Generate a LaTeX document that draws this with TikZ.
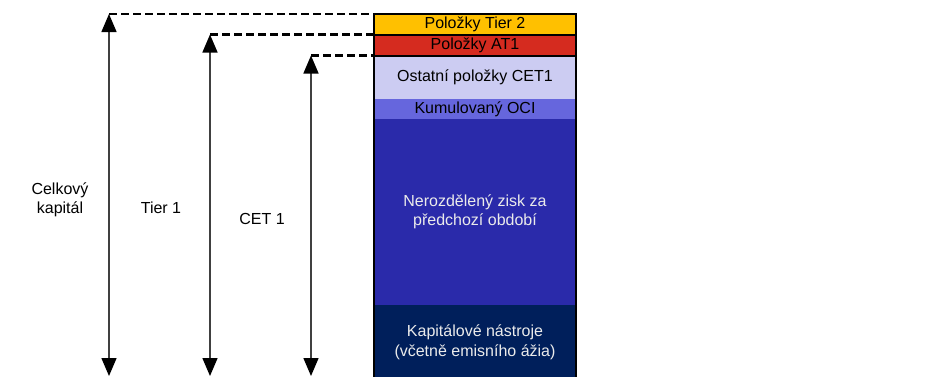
\documentclass[tikz,border=0pt]{standalone}
\usepackage{fontspec}
\setmainfont{Liberation Sans}
\usetikzlibrary{arrows.meta,positioning}

\definecolor{tierIIcol}{HTML}{FFC000}
\definecolor{atIcol}{HTML}{D52B1F}
\definecolor{ostatcol}{HTML}{CCCCF2}
\definecolor{ocicol}{HTML}{6666DD}
\definecolor{ziskcol}{HTML}{2A2AAA}
\definecolor{nastrcol}{HTML}{001F5B}

\begin{document}
\begin{tikzpicture}[x=1pt,y=-1pt,
  every node/.style={font=\fontsize{16}{19.5}\selectfont},
  layer/.style={rectangle,minimum width=202pt,inner sep=0pt,outer sep=0pt,align=center},
  darklayer/.style={layer,text=white!92!black},
  dimarrow/.style={draw=black!75,line width=1.5pt,
    {Triangle[width=15pt,length=18pt,color=black]}-{Triangle[width=15pt,length=18pt,color=black]}},
  leader/.style={draw=black,line width=2.5pt,dash pattern=on 8pt off 4pt}]
\useasboundingbox (0,0) rectangle (929,376);

% the capital stack
\node[layer,anchor=north,fill=tierIIcol,minimum height=20.5pt] (tierII) at (475,14) {Položky Tier 2};
\node[layer,fill=atIcol,minimum height=21pt,below=0pt of tierII] (atI) {Položky AT1};
\node[layer,fill=ostatcol,minimum height=43.5pt,below=0pt of atI] (ostat) {Ostatní položky CET1};
\node[layer,fill=ocicol,minimum height=20pt,below=0pt of ostat] (oci) {Kumulovaný OCI};
\node[darklayer,fill=ziskcol,minimum height=186pt,below=0pt of oci] (zisk) {Nerozdělený zisk za\\předchozí období};
\node[darklayer,fill=nastrcol,minimum height=75pt,below=0pt of zisk] (nastr) {Kapitálové nástroje\\(včetně emisního ážia)};
\draw[line width=2pt] (tierII.north west) rectangle (nastr.south east);
\draw[line width=2pt] (tierII.south west) -- (tierII.south east);
\draw[line width=2pt] (atI.south west) -- (atI.south east);

% arrows
\coordinate (celkTop) at (109,14);
\coordinate (celkBot) at (109,376);
\coordinate (tierITop) at (210,34.5);
\coordinate (tierIBot) at (210,376);
\coordinate (cetTop) at (311,55.5);
\coordinate (cetBot) at (311,376);
\draw[dimarrow] (celkBot) -- (celkTop);
\draw[dimarrow] (tierIBot) -- (tierITop);
\draw[dimarrow] (cetBot) -- (cetTop);
\draw[leader] (celkTop) -- (tierII.north west);
\draw[leader] (tierITop) -- (atI.north west);
\draw[leader] (cetTop) -- (ostat.north west);

% labels
\node[align=center] (celkLbl) at (60,200) {Celkový\\kapitál};
\node (tierILbl) at (161,207.5) {Tier 1};
\node (cetLbl) at (262,218.5) {CET 1};
\end{tikzpicture}
\end{document}
